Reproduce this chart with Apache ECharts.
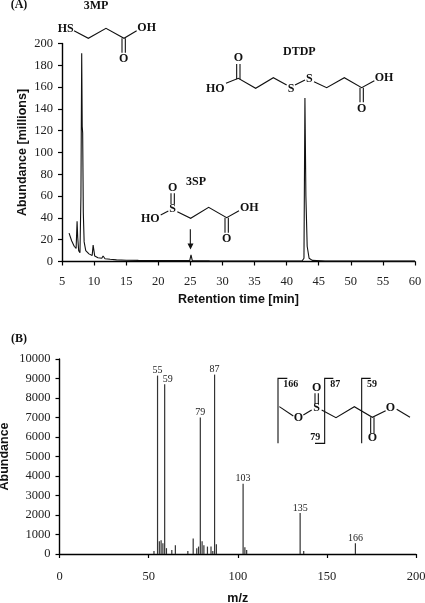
<!DOCTYPE html>
<html>
<head>
<meta charset="utf-8">
<style>
  html, body { margin: 0; padding: 0; background: #fff; }
  #chart { width: 425px; height: 603px; }
</style>
<script src="https://cdn.jsdelivr.net/npm/echarts@6/dist/echarts.min.js"></script>
</head>
<body>
<div id="chart"></div>
<script>
  // (A) chromatogram, retention time [min] / abundance [millions]
  var retentionTime = [6.1, 6.5, 6.9, 7.2, 7.35, 7.45, 7.6, 7.8, 7.95, 8.07, 8.15, 8.22, 8.32, 8.45, 8.7, 9.2, 9.7, 9.85, 10.1, 10.6, 11.2, 11.4, 11.7, 12.5, 13.5, 15, 16.9, 17, 17.1, 19.2, 19.3, 19.4, 22, 24.9, 25.1, 25.3, 28, 33, 38, 42.4, 42.7, 42.85, 43, 43.2, 43.5, 44, 46, 52, 60];
  var abundanceMillions = [26, 19, 14, 12, 37, 22, 10, 8, 60, 191, 124, 118, 45, 18, 10, 7, 5.5, 15, 5, 3.5, 3, 5, 2.5, 2, 1.5, 1.2, 1, 2, 1, 0.9, 2.5, 0.9, 0.8, 0.8, 6, 0.8, 0.6, 0.5, 0.5, 0.5, 3, 150, 60, 14, 3, 1, 0.5, 0.4, 0.3];

  // (B) mass spectrum
  var mzValues = [53, 55, 56, 57, 58, 59, 60, 63, 65, 72, 75, 77, 78, 79, 80, 81, 83, 85, 86, 87, 88, 103, 104, 105, 135, 137, 166];
  var mzAbundance = [150, 9150, 650, 700, 550, 8700, 300, 200, 450, 150, 800, 300, 380, 7000, 650, 450, 380, 380, 150, 9200, 500, 3600, 350, 200, 2100, 150, 550];
  var labelledPeaks = [55, 59, 79, 87, 103, 135, 166];

  var serif = '"Liberation Serif", serif';
  var sans = '"Liberation Sans", sans-serif';
  var graphics = [];

  function bonds(pts, ox, oy) {
    var p = pts.map(function (q) { return [ox + q[0] / 3, oy + q[1] / 3]; });
    graphics.push({
      type: 'polyline', silent: true,
      shape: { points: p },
      style: { stroke: '#111', lineWidth: 1.1, fill: null }
    });
  }
  function atom(s, x, y, ox, oy, size) {
    graphics.push({
      type: 'text', silent: true,
      x: ox + x / 3, y: oy + y / 3,
      style: { text: s, font: 'bold ' + (size || 12) + 'px ' + serif, fill: '#111', align: 'center', verticalAlign: 'middle' }
    });
  }

  // panel letters
  atom('(A)', 57, 15, 0, 0);
  atom('(B)', 57, 58, 0, 320);

  // 3MP
  atom('3MP', 288, 18, 0, 0);
  atom('HS', 197, 87, 0, 0);
  atom('OH', 440, 85, 0, 0);
  atom('O', 371, 178, 0, 0);
  bonds([[222, 92], [265, 115], [318, 85], [372, 115], [410, 92]], 0, 0);
  bonds([[366, 115], [366, 158]], 0, 0);
  bonds([[376, 115], [376, 158]], 0, 0);

  // DTDP
  atom('DTDP', 328, 37, 190, 40);
  atom('O', 145, 55, 190, 40);
  atom('HO', 76, 147, 190, 40);
  atom('S', 303, 147, 190, 40);
  atom('S', 358, 117, 190, 40);
  atom('OH', 582, 113, 190, 40);
  atom('O', 515, 207, 190, 40);
  bonds([[108, 130], [145, 115], [197, 145], [250, 113], [290, 135]], 190, 40);
  bonds([[315, 135], [345, 120]], 190, 40);
  bonds([[372, 125], [410, 143], [463, 113], [515, 143], [553, 122]], 190, 40);
  bonds([[140, 72], [140, 118]], 190, 40);
  bonds([[150, 72], [150, 118]], 190, 40);
  bonds([[510, 143], [510, 187]], 190, 40);
  bonds([[520, 143], [520, 187]], 190, 40);

  // 3SP
  atom('3SP', 468, 97, 40, 150);
  atom('O', 398, 113, 40, 150);
  atom('S', 398, 177, 40, 150);
  atom('HO', 331, 207, 40, 150);
  atom('OH', 628, 173, 40, 150);
  atom('O', 560, 268, 40, 150);
  bonds([[362, 195], [385, 183]], 40, 150);
  bonds([[412, 185], [452, 205], [506, 172], [560, 203], [597, 182]], 40, 150);
  bonds([[393, 130], [393, 162]], 40, 150);
  bonds([[403, 130], [403, 162]], 40, 150);
  bonds([[555, 203], [555, 248]], 40, 150);
  bonds([[565, 203], [565, 248]], 40, 150);
  // arrow to the 3SP peak
  bonds([[451, 238], [451, 282]], 40, 150);
  graphics.push({
    type: 'polygon', silent: true,
    shape: { points: [[187.5, 243.5], [193.5, 243.5], [190.5, 249.5]] },
    style: { fill: '#111' }
  });

  // fragment structure in (B)
  bonds([[232, 115], [204, 115], [204, 310]], 210, 340);
  bonds([[370, 115], [344, 115], [344, 310], [315, 310]], 210, 340);
  bonds([[482, 115], [455, 115], [455, 310]], 210, 340);
  bonds([[208, 200], [250, 228]], 210, 340);
  bonds([[280, 225], [305, 210]], 210, 340);
  bonds([[335, 210], [378, 233], [433, 200], [487, 232], [527, 212]], 210, 340);
  bonds([[560, 208], [600, 232]], 210, 340);
  bonds([[315, 160], [315, 192]], 210, 340);
  bonds([[325, 160], [325, 192]], 210, 340);
  bonds([[482, 232], [482, 280]], 210, 340);
  bonds([[492, 232], [492, 280]], 210, 340);
  atom('166', 242, 134, 210, 340, 10);
  atom('87', 376, 134, 210, 340, 10);
  atom('59', 486, 134, 210, 340, 10);
  atom('79', 316, 291, 210, 340, 10);
  atom('O', 265, 235, 210, 340);
  atom('S', 320, 205, 210, 340);
  atom('O', 320, 145, 210, 340);
  atom('O', 541, 203, 210, 340);
  atom('O', 487, 293, 210, 340);

  function axisBase(labelMargin) {
    return {
      type: 'value',
      splitLine: { show: false },
      axisLine: { show: true, onZero: false, lineStyle: { color: '#000', width: 1.4 } },
      axisTick: { show: true, length: 4, lineStyle: { color: '#000', width: 1.2 } },
      axisLabel: {
        fontFamily: serif, fontSize: 12.5, color: '#222', margin: labelMargin,
        showMinLabel: true, showMaxLabel: true,
        formatter: function (v) { return String(v); }
      },
      nameLocation: 'middle',
      nameMoveOverlap: false,
      nameTextStyle: { fontFamily: sans, fontWeight: 'bold', fontSize: 12.5, color: '#111' }
    };
  }

  var chart = echarts.init(document.getElementById('chart'), null, { renderer: 'canvas' });
  chart.setOption({
    animation: false,
    backgroundColor: '#fff',
    grid: [
      { left: 62, top: 43.5, width: 353, height: 218, outerBoundsMode: 'none' },
      { left: 59.5, top: 359, width: 356.5, height: 195, outerBoundsMode: 'none' }
    ],
    xAxis: [
      Object.assign(axisBase(14), { gridIndex: 0, min: 5, max: 60, interval: 5, name: 'Retention time [min]', nameGap: 32 }),
      Object.assign(axisBase(16), { gridIndex: 1, min: 0, max: 200, interval: 50, name: 'm/z', nameGap: 38 })
    ],
    yAxis: [
      Object.assign(axisBase(9), { gridIndex: 0, min: 0, max: 200, interval: 20, name: 'Abundance [millions]', nameGap: 33 }),
      Object.assign(axisBase(9), { gridIndex: 1, min: 0, max: 10000, interval: 1000, name: 'Abundance', nameGap: 48 })
    ],
    series: [
      {
        type: 'line', xAxisIndex: 0, yAxisIndex: 0,
        showSymbol: false, sampling: null,
        lineStyle: { color: '#111', width: 1.1 },
        data: retentionTime.map(function (t, i) { return [t, abundanceMillions[i]]; })
      },
      {
        type: 'bar', xAxisIndex: 1, yAxisIndex: 1,
        barWidth: 1.2,
        itemStyle: { color: '#333' },
        data: mzValues.map(function (m, i) {
          var d = { value: [m, mzAbundance[i]] };
          if (labelledPeaks.indexOf(m) >= 0) {
            d.label = {
              show: true, position: 'top', distance: 0,
              formatter: String(m),
              fontFamily: serif, fontSize: 10, color: '#222',
              offset: m === 59 ? [3, 0] : [0, 0]
            };
          }
          return d;
        })
      }
    ],
    graphic: graphics
  });
</script>
</body>
</html>
